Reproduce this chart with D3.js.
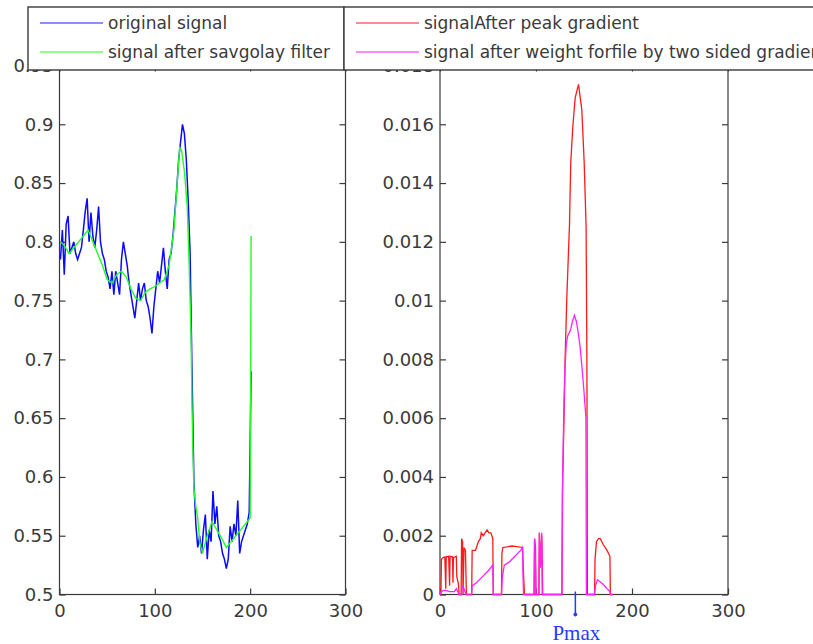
<!DOCTYPE html>
<html>
<head>
<meta charset="utf-8">
<script src="https://cdn.jsdelivr.net/npm/d3@7"></script>
<style>
  body { margin: 0; background: #fff; }
  svg { display: block; font-family: "DejaVu Sans", sans-serif; }
</style>
</head>
<body>
<div id="chart"></div>
<script>
// left panel: original signal (blue) sampled every 2 units
const origX = d3.range(1, 202, 2);
const origY = [
  0.785, 0.81, 0.772, 0.815, 0.822, 0.79, 0.795, 0.80, 0.79, 0.785,
  0.79, 0.795, 0.81, 0.826, 0.837, 0.80, 0.825, 0.805, 0.795, 0.81,
  0.83, 0.80, 0.79, 0.785, 0.775, 0.77, 0.76, 0.775, 0.755, 0.775,
  0.765, 0.755, 0.785, 0.80, 0.79, 0.78, 0.765, 0.755, 0.745, 0.735,
  0.75, 0.765, 0.75, 0.76, 0.765, 0.75, 0.745, 0.735, 0.722, 0.745,
  0.76, 0.775, 0.765, 0.78, 0.795, 0.775, 0.76, 0.785, 0.79, 0.805,
  0.825, 0.845, 0.87, 0.885, 0.90, 0.892, 0.87, 0.835, 0.79, 0.69,
  0.595, 0.56, 0.54, 0.55, 0.535, 0.555, 0.568, 0.53, 0.555, 0.545,
  0.588, 0.56, 0.575, 0.55, 0.545, 0.535, 0.53, 0.522, 0.53, 0.558,
  0.545, 0.56, 0.55, 0.58, 0.535, 0.545, 0.55, 0.555, 0.56, 0.57,
  0.69
];

// left panel: savgolay filtered signal (green)
const savgolX = [1, 5, 10, 15, 20, 25, 30, 35, 40, 45, 50, 55, 60, 65, 70, 75, 80, 85, 90, 95,
  100, 105, 110, 115, 120, 123, 126, 128, 131, 134, 136, 138, 139, 140, 141, 143, 145, 147, 150,
  155, 160, 165, 170, 175, 180, 185, 190, 195, 200, 201];
const savgolY = [0.80, 0.797, 0.79, 0.795, 0.80, 0.805, 0.81, 0.80, 0.79, 0.78, 0.768, 0.765, 0.772,
  0.775, 0.77, 0.76, 0.752, 0.75, 0.757, 0.76, 0.762, 0.765, 0.768, 0.78, 0.81, 0.845, 0.88, 0.878,
  0.86, 0.83, 0.78, 0.72, 0.66, 0.62, 0.59, 0.575, 0.565, 0.545, 0.535, 0.55, 0.562, 0.555, 0.548,
  0.54, 0.545, 0.55, 0.555, 0.56, 0.565, 0.805];

// right panel: peak gradient (red)
const peakX = [0, 1, 1.5, 3, 5, 6, 6.5, 9, 10, 10.5, 13, 13.5, 14, 17, 17.5, 19, 20,
  22, 22.5, 23.5, 24, 25, 26.5, 27.5, 33, 33.5, 37, 38, 40, 42, 43, 45, 47, 49, 51, 53, 55, 55.5,
  64, 64.5, 65.5, 70, 75, 80, 86, 87, 88, 98, 98.5, 99.5, 100, 103, 103.5, 105, 106, 107,
  127, 127.5, 128.3, 129.3, 130.3, 132.1, 134.9, 136.2, 138.3, 140.8, 144.3, 147.7, 150.2,
  152.2, 153, 153.2, 153.5, 161, 161.5, 163, 165, 167, 170, 174, 177, 177.5, 180];
const peakY = [0, 0, 0.0012, 0.00125, 0.00128, 0.0002, 0.00128, 0.0013, 0.0003, 0.0013, 0.00128,
  0.0004, 0.00125, 0.0013, 0.0006, 0.0004, 0, 0, 0.0019, 0.0018, 0, 0.0016, 0.0015, 0, 0, 0.0015,
  0.0015, 0.0016, 0.0018, 0.0019, 0.0021, 0.002, 0.0021, 0.0022, 0.0021, 0.0021, 0.0019, 0,
  0, 0.0014, 0.0016, 0.00162, 0.00165, 0.00163, 0.0016, 0.0007, 0, 0, 0.0019, 0.0016, 0, 0, 0.0021,
  0.001, 0.002, 0, 0, 0.0035, 0.0046, 0.0062, 0.008, 0.0101, 0.0126, 0.0147, 0.0159, 0.0169,
  0.01736, 0.0165, 0.0147, 0.0125, 0.008, 0.0058, 0, 0, 0.0012, 0.0018, 0.0019, 0.0019, 0.0017,
  0.0015, 0.0013, 0, 0];

// right panel: weighted two sided gradient (magenta)
const weightX = [0, 1, 5, 10, 15, 17, 20, 22.5, 23, 25, 27, 33, 33.5, 38, 44, 50, 55, 55.5,
  64, 65, 67, 72, 78, 84, 86, 86.5, 87, 98, 98.5, 99.5, 100, 103, 103.5, 104.5, 106, 106.5,
  127, 127.8, 128.8, 130, 131.5, 133, 136, 138, 140, 142, 144, 146, 148, 150, 152, 152.5,
  161, 162, 164, 166, 170, 174, 177, 177.5, 180];
const weightY = [0, 0.0001, 0.00015, 0.0001, 0.0001, 0.0002, 0, 0, 0.0003, 0.0002, 0, 0, 0.0003,
  0.0004, 0.0006, 0.0008, 0.001, 0, 0, 0.0006, 0.001, 0.0011, 0.0013, 0.0015, 0.0016, 0.0006, 0,
  0, 0.0019, 0.0009, 0, 0, 0.0021, 0.0009, 0.0021, 0, 0, 0.004, 0.006, 0.0076, 0.0085, 0.0088,
  0.009, 0.0093, 0.0095, 0.0093, 0.0089, 0.0084, 0.0077, 0.0069, 0.006, 0, 0, 0.0003, 0.0005,
  0.00045, 0.00035, 0.0002, 0.0001, 0, 0];

const xTicks = [0, 100, 200, 300];
const leftYTicks = [0.5, 0.55, 0.6, 0.65, 0.7, 0.75, 0.8, 0.85, 0.9, 0.95];
const rightYTicks = [0, 0.002, 0.004, 0.006, 0.008, 0.01, 0.012, 0.014, 0.016, 0.018];
const pmaxX = 141;

const width = 813;
const height = 644;
const plotTop = 65.5;
const plotBottom = 594.5;
const axisColor = '#3a3a3a';

const svg = d3.select('#chart')
  .append('svg')
  .attr('width', width)
  .attr('height', height);

svg.append('rect').attr('width', width).attr('height', height).attr('fill', '#fff');

const xL = d3.scaleLinear().domain([0, 300]).range([59.5, 345.5]);
const yL = d3.scaleLinear().domain([0.5, 0.95]).range([plotBottom, plotTop]);
const xR = d3.scaleLinear().domain([0, 300]).range([440, 728]);
const yR = d3.scaleLinear().domain([0, 0.018]).range([plotBottom, plotTop]);

function drawFrame(x, y, yTicks, fmt) {
  const g = svg.append('g');
  const styleAxis = sel => {
    sel.select('.domain').remove();
    sel.selectAll('line').attr('stroke', axisColor).attr('stroke-width', 1.2);
    sel.selectAll('text').attr('fill', axisColor).attr('font-size', 18)
      .attr('font-family', '"DejaVu Sans", sans-serif');
  };
  // inward ticks on all four sides (matlab style)
  g.append('g').attr('transform', `translate(0,${plotBottom})`)
    .call(d3.axisBottom(x).tickValues(xTicks).tickSizeInner(-6).tickSizeOuter(0).tickPadding(10)
      .tickFormat(d3.format('d')))
    .call(styleAxis);
  g.append('g').attr('transform', `translate(0,${plotTop})`)
    .call(d3.axisTop(x).tickValues(xTicks).tickSizeInner(-6).tickSizeOuter(0).tickFormat(''))
    .call(styleAxis);
  g.append('g').attr('transform', `translate(${x.range()[0]},0)`)
    .call(d3.axisLeft(y).tickValues(yTicks).tickSizeInner(-6).tickSizeOuter(0).tickPadding(6)
      .tickFormat(fmt))
    .call(styleAxis);
  g.append('g').attr('transform', `translate(${x.range()[1]},0)`)
    .call(d3.axisRight(y).tickValues(yTicks).tickSizeInner(-6).tickSizeOuter(0).tickFormat(''))
    .call(styleAxis);
  g.append('rect')
    .attr('x', x.range()[0]).attr('y', plotTop)
    .attr('width', x.range()[1] - x.range()[0]).attr('height', plotBottom - plotTop)
    .attr('fill', 'none').attr('stroke', axisColor).attr('stroke-width', 1.2);
}

function drawLine(x, y, xs, ys, color, w) {
  const line = d3.line().x(d => x(d[0])).y(d => y(d[1]));
  svg.append('path')
    .datum(d3.zip(xs, ys))
    .attr('d', line)
    .attr('fill', 'none')
    .attr('stroke', color)
    .attr('stroke-width', w);
}

drawFrame(xL, yL, leftYTicks, d => String(+d.toFixed(2)));
drawFrame(xR, yR, rightYTicks, d => String(+d.toFixed(3)));

drawLine(xL, yL, origX, origY, '#0a0aff', 1.5);
drawLine(xL, yL, savgolX, savgolY, '#22ff22', 1.4);
drawLine(xR, yR, peakX, peakY, '#ff1a1a', 1.3);
drawLine(xR, yR, weightX, weightY, '#ff22ff', 1.3);

// Pmax marker under the right panel
const pm = svg.append('g').attr('fill', '#1f3cff').attr('stroke', '#1f3cff');
pm.append('line')
  .attr('x1', xR(pmaxX)).attr('x2', xR(pmaxX))
  .attr('y1', yR(0) - 3).attr('y2', yR(0) + 20)
  .attr('stroke-width', 1.5);
pm.append('circle').attr('cx', xR(pmaxX)).attr('cy', yR(0) + 20).attr('r', 1.5);
pm.append('text')
  .attr('x', xR(pmaxX) + 1).attr('y', 640)
  .attr('text-anchor', 'middle')
  .attr('stroke', 'none')
  .attr('font-family', '"Liberation Serif", "DejaVu Serif", serif')
  .attr('font-size', 21)
  .text('Pmax');

// legends, drawn on top of the axes like matlab does
const legends = [
  { x: 28, w: 316, items: [['original signal', '#0000ff'], ['signal after savgolay filter', '#00ff00']] },
  { x: 344, w: 520, items: [['signalAfter peak gradient', '#ff0000'], ['signal after weight forfile by two sided gradient', '#ff00ff']] }
];
legends.forEach(lg => {
  const g = svg.append('g');
  g.append('rect')
    .attr('x', lg.x).attr('y', 7).attr('width', lg.w).attr('height', 63)
    .attr('fill', '#fff').attr('stroke', axisColor).attr('stroke-width', 1.4);
  lg.items.forEach((it, i) => {
    const cy = 23 + i * 29;
    g.append('line')
      .attr('x1', lg.x + 12).attr('x2', lg.x + 75)
      .attr('y1', cy).attr('y2', cy)
      .attr('stroke', it[1]).attr('stroke-width', 1.4).attr('opacity', 0.6);
    g.append('text')
      .attr('x', lg.x + 80).attr('y', cy + 6)
      .attr('font-size', 17).attr('fill', axisColor)
      .text(it[0]);
  });
});
</script>
</body>
</html>
